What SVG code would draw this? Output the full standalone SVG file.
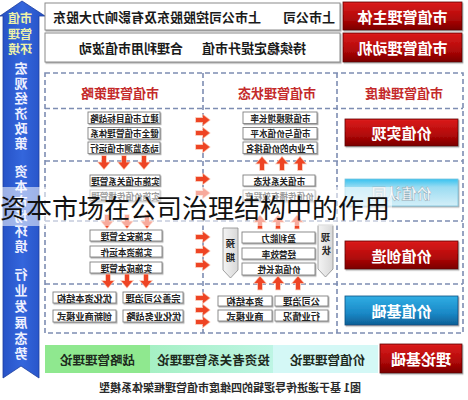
<svg xmlns="http://www.w3.org/2000/svg" width="468" height="400" viewBox="0 0 468 400">
<defs>
<style>
text{font-family:"Noto Sans CJK SC","Noto Sans",sans-serif;font-weight:bold;dominant-baseline:central;text-anchor:middle}
.m{transform-box:fill-box;transform-origin:50% 50%;transform:scaleX(-1)}
.wb{fill:#fff;stroke:#8a8a8a;stroke-width:1;filter:url(#sh)}
.sb{fill:#fff;stroke:#808080;stroke-width:0.9;filter:url(#sh)}
.t13{font-size:13px;fill:#1a1a1a}
.t9{font-size:8.6px;fill:#222}
.t95{font-size:9.2px;fill:#222}
.hd{font-size:13px;fill:#c42a2a}
.wt{font-size:15px;fill:#fff}
.dash{fill:none;stroke:#7d8db2;stroke-width:1.6;stroke-dasharray:5 3}
.ar{fill:#ee4424;stroke:#f9b9a2;stroke-width:1.4;paint-order:stroke}
.bt{font-size:12.5px;fill:#1d2a1d}
.vt{font-size:13px;fill:#eef0ff}
.vy{font-size:12px;fill:#eef2a8}
</style>
<filter id="sh" x="-10%" y="-20%" width="130%" height="160%"><feDropShadow dx="1" dy="1.2" stdDeviation="0.7" flood-color="#777" flood-opacity="0.6"/></filter>
<linearGradient id="red" x1="0" y1="0" x2="0" y2="1"><stop offset="0" stop-color="#dc1c1c"/><stop offset="0.6" stop-color="#b00808"/><stop offset="1" stop-color="#7a0000"/></linearGradient>
<linearGradient id="cyan" x1="0" y1="0" x2="0" y2="1"><stop offset="0" stop-color="#36c2f0"/><stop offset="0.3" stop-color="#9adcf2"/><stop offset="1" stop-color="#d4eff8"/></linearGradient>
<linearGradient id="blue" x1="0" y1="0" x2="0" y2="1"><stop offset="0" stop-color="#30aee4"/><stop offset="0.6" stop-color="#1a88c6"/><stop offset="1" stop-color="#0e5f96"/></linearGradient>
<linearGradient id="bar" x1="0" y1="0" x2="1" y2="0"><stop offset="0" stop-color="#2550c4"/><stop offset="0.5" stop-color="#3466dc"/><stop offset="1" stop-color="#2550c4"/></linearGradient>
<linearGradient id="mint" x1="0" y1="0" x2="1" y2="0"><stop offset="0" stop-color="#a6f0c4"/><stop offset="1" stop-color="#bdf5e4"/></linearGradient>
<linearGradient id="chev" x1="0" y1="0" x2="1" y2="0"><stop offset="0" stop-color="#f4f4f4"/><stop offset="1" stop-color="#d8d8d8"/></linearGradient>
<path id="dn" d="M-2,-6.5H2V0H5.5L0,6.5L-5.5,0H-2Z"/>
<path id="up" d="M-2,6.5H2V0H5.5L0,-6.5L-5.5,0H-2Z"/>
<path id="rt" d="M-7,-2H0V-5L6.5,0L0,5V2H-7Z"/>
</defs>
<rect width="468" height="400" fill="#fff"/>

<g id="env-bar">
<path d="M22,1L45,16H39V378L21,366L3,378V16H0Z" fill="url(#bar)" stroke="#1c3e9e" stroke-width="0.8"/>
<text class="vy m" x="20" y="17">市值</text>
<text class="vy m" x="20" y="33">管理</text>
<text class="vy m" x="20" y="48">环境</text>
<text class="vt m" x="21" y="67">宏</text><text class="vt m" x="21" y="82">观</text><text class="vt m" x="21" y="97">经</text><text class="vt m" x="21" y="112">济</text><text class="vt m" x="21" y="127">政</text><text class="vt m" x="21" y="142">策</text>
<text class="vt m" x="21" y="170">资</text><text class="vt m" x="21" y="185">本</text><text class="vt m" x="21" y="200">市</text><text class="vt m" x="21" y="215">场</text><text class="vt m" x="21" y="230">环</text><text class="vt m" x="21" y="245">境</text>
<text class="vt m" x="21" y="273">行</text><text class="vt m" x="21" y="289">业</text><text class="vt m" x="21" y="305">发</text><text class="vt m" x="21" y="321">展</text><text class="vt m" x="21" y="337">态</text><text class="vt m" x="21" y="352">势</text>
</g>

<g id="subject">
<rect class="wb" x="45" y="3" width="295" height="27"/>
<text class="t13 m" x="309" y="16.5">上市公司</text>
<text class="t13 m" x="157" y="16.5">上市公司控股股东及有影响力大股东</text>
</g>
<g id="subject-label">
<rect x="343" y="2" width="119" height="28" fill="url(#red)" stroke="#5e0000" stroke-width="0.8" filter="url(#sh)"/>
<text class="wt m" x="402.5" y="16">市值管理主体</text>
</g>
<g id="motive">
<rect class="wb" x="45" y="33" width="295" height="29"/>
<text class="t13 m" x="254" y="47.5">持续稳定提升市值</text>
<text class="t13 m" x="131" y="47.5">合理利用市值波动</text>
</g>
<g id="motive-label">
<rect x="343" y="33" width="119" height="29" fill="url(#red)" stroke="#5e0000" stroke-width="0.8" filter="url(#sh)"/>
<text class="wt m" x="402.5" y="47.5">市值管理动机</text>
</g>

<g id="frame">
<rect class="dash" x="45" y="73" width="418" height="260"/>
<line class="dash" x1="203" y1="73" x2="203" y2="333"/>
<line class="dash" x1="337" y1="73" x2="337" y2="333"/>
<line class="dash" x1="45" y1="108.5" x2="463" y2="108.5"/>
<line class="dash" x1="45" y1="161" x2="463" y2="161"/>
<line class="dash" x1="45" y1="221" x2="463" y2="221"/>
<line class="dash" x1="45" y1="284" x2="463" y2="284"/>
</g>

<g id="headers">
<text class="hd m" x="120" y="92">市值管理策略</text>
<text class="hd m" x="277" y="92">市值管理状态</text>
<text class="hd m" x="404" y="92">市值管理维度</text>
</g>

<g id="strategy-1">
<rect class="sb" x="88" y="112" width="72" height="11.5"/><text class="t9 m" x="124" y="117.8">建立市值目标战略</text>
<rect class="sb" x="88" y="127.5" width="72" height="11.5"/><text class="t9 m" x="124" y="133.3">健全市值管理体系</text>
<rect class="sb" x="88" y="142" width="72" height="11.5"/><text class="t9 m" x="124" y="147.8">动态监测市值运行</text>
</g>
<g id="state-1">
<rect class="sb" x="243" y="112" width="74" height="11.5"/><text class="t9 m" x="280" y="117.8">市值规模增长率</text>
<rect class="sb" x="243" y="127.5" width="74" height="11.5"/><text class="t9 m" x="280" y="133.3">市值与价值水平</text>
<rect class="sb" x="243" y="142" width="74" height="11.5"/><text class="t9 m" x="280" y="147.8">产业内的价值排名</text>
</g>
<g id="strategy-2">
<rect class="sb" x="90" y="175" width="70" height="11"/><text class="t9 m" x="125" y="180.5">实施市值关系管理</text>
<rect class="sb" x="90" y="190" width="70" height="11"/><text class="t9 m" x="125" y="195.5">实施价值传播管理</text>
</g>
<g id="state-2">
<rect class="sb" x="243" y="175" width="72" height="11"/><text class="t9 m" x="279" y="180.5">市值关系状态</text>
<rect class="sb" x="243" y="190" width="72" height="11"/><text class="t9 m" x="279" y="195.5">价值传播有效程度</text>
</g>
<g id="strategy-3">
<rect class="sb" x="90" y="230" width="72" height="11"/><text class="t9 m" x="126" y="235.5">实施安全管理</text>
<rect class="sb" x="90" y="246" width="72" height="11"/><text class="t9 m" x="126" y="251.5">实施资本运作</text>
<rect class="sb" x="90" y="262" width="72" height="11"/><text class="t9 m" x="126" y="267.5">实施成本管理</text>
</g>
<g id="state-3">
<rect class="sb" x="242" y="232" width="73" height="11"/><text class="t9 m" x="278.5" y="237.5">盈利能力</text>
<rect class="sb" x="242" y="248" width="73" height="11"/><text class="t9 m" x="278.5" y="253.5">经营效率</text>
<rect class="sb" x="242" y="263" width="73" height="12"/><text class="t9 m" x="278.5" y="269">价值成长性</text>
</g>
<g id="expect">
<path d="M223,228H238V270L230.5,278L223,270Z" fill="url(#chev)" stroke="#8a8a8a" stroke-width="0.8"/>
<text class="t95 m" x="230.5" y="243">预</text><text class="t95 m" x="230.5" y="257">期</text>
</g>
<g id="current">
<path d="M318,225H333V269L325.5,277L318,269Z" fill="url(#chev)" stroke="#8a8a8a" stroke-width="0.8"/>
<text class="t95 m" x="325.5" y="237">现</text><text class="t95 m" x="325.5" y="250">状</text>
</g>
<g id="strategy-4">
<rect class="sb" x="53" y="292" width="63" height="11"/><text class="t95 m" x="84.5" y="297.5">优化资本结构</text>
<rect class="sb" x="123" y="292" width="60" height="11"/><text class="t95 m" x="153" y="297.5">完善公司治理</text>
<rect class="sb" x="53" y="310" width="63" height="12"/><text class="t95 m" x="84.5" y="316">创新商业模式</text>
<rect class="sb" x="123" y="310" width="60" height="12"/><text class="t95 m" x="153" y="316">优化业务战略</text>
</g>
<g id="state-4">
<rect class="sb" x="218" y="296" width="54" height="10"/><text class="t95 m" x="245" y="301">资本结构</text>
<rect class="sb" x="275" y="296" width="53" height="10"/><text class="t95 m" x="301.5" y="301">公司治理</text>
<rect class="sb" x="218" y="310" width="54" height="11"/><text class="t95 m" x="245" y="315.5">商业模式</text>
<rect class="sb" x="275" y="310" width="53" height="11"/><text class="t95 m" x="301.5" y="315.5">行业情况</text>
</g>

<g id="value-realize">
<rect x="345" y="119" width="113" height="27" fill="url(#red)" stroke="#5e0000" stroke-width="0.8" filter="url(#sh)"/>
<text class="wt m" x="401.5" y="132.5">价值实现</text>
</g>
<g id="value-recognize">
<rect x="345" y="179" width="113" height="27" fill="url(#cyan)" stroke="#7cc4dc" stroke-width="0.8" filter="url(#sh)"/>
<text class="wt m" x="401.5" y="192.5" style="fill:#f4f8fa;stroke:#8aa4b0;stroke-width:0.4">价值认同</text>
</g>
<g id="value-create">
<rect x="345" y="241" width="113" height="28" fill="url(#red)" stroke="#5e0000" stroke-width="0.8" filter="url(#sh)"/>
<text class="wt m" x="401.5" y="255">价值创造</text>
</g>
<g id="value-base">
<rect x="345" y="296" width="113" height="29" fill="url(#blue)" stroke="#0c4e80" stroke-width="0.8" filter="url(#sh)"/>
<text class="wt m" x="401.5" y="310.5">价值基础</text>
</g>

<g id="connectors">
<use href="#dn" class="ar" x="104" y="162.5"/><use href="#dn" class="ar" x="124" y="162.5"/><use href="#dn" class="ar" x="144" y="162.5"/>
<use href="#up" class="ar" x="262" y="163.5"/><use href="#up" class="ar" x="282" y="163.5"/><use href="#up" class="ar" x="300" y="163.5"/>
<use href="#dn" class="ar" x="107" y="221.5"/><use href="#dn" class="ar" x="127" y="221.5"/><use href="#dn" class="ar" x="147" y="221.5"/>
<use href="#up" class="ar" x="260" y="222"/><use href="#up" class="ar" x="278" y="222"/><use href="#up" class="ar" x="297" y="222"/>
<use href="#dn" class="ar" x="108" y="281"/><use href="#dn" class="ar" x="127" y="281"/><use href="#dn" class="ar" x="146" y="281"/>
<use href="#up" class="ar" x="260" y="283"/><use href="#up" class="ar" x="278" y="283"/><use href="#up" class="ar" x="298" y="283"/>
<use href="#rt" class="ar" x="203" y="120"/><use href="#rt" class="ar" x="203" y="133"/><use href="#rt" class="ar" x="203" y="147"/>
<use href="#rt" class="ar" x="203" y="179"/><use href="#rt" class="ar" x="203" y="193"/>
<use href="#rt" class="ar" x="203" y="237"/><use href="#rt" class="ar" x="203" y="251"/><use href="#rt" class="ar" x="203" y="265"/>
<use href="#rt" class="ar" x="203" y="298"/><use href="#rt" class="ar" x="203" y="310"/><use href="#rt" class="ar" x="203" y="322"/>
</g>

<g id="theory">
<rect x="45" y="345" width="105" height="28" fill="#8fe88f"/>
<text class="bt m" x="97" y="359">战略管理理论</text>
<rect x="150" y="345" width="123" height="28" fill="url(#mint)"/>
<text class="bt m" x="213" y="359">投资者关系管理理论</text>
<rect x="273" y="345" width="105" height="28" fill="#d4f8f6"/>
<text class="bt m" x="327" y="359">价值管理理论</text>
</g>
<g id="theory-label">
<rect x="380" y="344" width="82" height="29" fill="url(#red)" stroke="#5e0000" stroke-width="0.8" filter="url(#sh)"/>
<text class="wt m" x="421" y="358.5">理论基础</text>
</g>

<text class="m" x="230" y="387" style="font-size:11px;fill:#2a2a2a">图1 基于递进传导逻辑的四维度市值管理框架体系模型</text>

<rect x="0" y="187" width="392" height="39" fill="#fff" fill-opacity="0.55"/>
<text x="0" y="218" style="font-size:26px;font-weight:normal;fill:#111;text-anchor:start;dominant-baseline:auto">资本市场在公司治理结构中的作用</text>
</svg>
